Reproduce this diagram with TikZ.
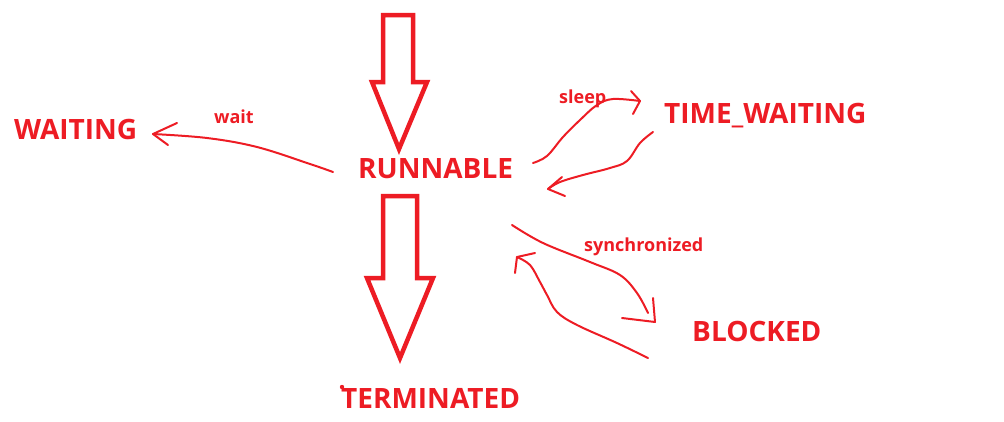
\documentclass[tikz,border=0pt]{standalone}
\usepackage{fontspec}
\setmainfont{Open Sans}
\definecolor{pred}{RGB}{237,28,36}
\tikzset{
  big/.style={font=\bfseries\fontsize{28}{28}\selectfont, text=pred, inner sep=0pt, anchor=base west},
  small/.style={font=\bfseries\fontsize{18}{18}\selectfont, text=pred, inner sep=0pt, anchor=base west},
  hand/.style={draw=pred, line width=2pt, line cap=round, line join=round},
  fat/.style={draw=pred, line width=4.5pt, line join=miter, fill=white},
}
\begin{document}
\begin{tikzpicture}[x=1pt,y=-1pt]
\useasboundingbox (0,0) rectangle (1004,421);
% states
\node[big] (runnable) at (358,178) {RUNNABLE};
\node[big] (waiting) at (14,139) {WAITING};
\node[big] (timewaiting) at (664,123) {TIME\_WAITING};
\node[big] (blocked) at (692,341) {BLOCKED};
\node[big] (terminated) at (341,408) {TERMINATED};
% labels
\node[small] (lwait) at (214,123) {wait};
\node[small] (lsleep) at (559,103) {sleep};
\node[small] (lsync) at (584,251) {synchronized};
% big hollow arrows
\draw[fat] (383,15) -- (413,15) -- (413,82) -- (427,82) -- (399,149) -- (372,82) -- (383,82) -- cycle;
\draw[fat] (383,196) -- (417,196) -- (417,278) -- (433,278) -- (400,358) -- (367,278) -- (383,278) -- cycle;
\fill[pred] (342,387) circle (2.2);
% wait
\coordinate (w0) at (333,172);
\coordinate (w1) at (153,134);
\draw[hand] plot[smooth, tension=0.6] coordinates {(w0) (310,164) (257,147) (207,138) (w1)};
\draw[hand] (177,123) -- (w1) -- (168,145);
% sleep
\coordinate (s0) at (533,163);
\coordinate (s1) at (640,101);
\draw[hand] plot[smooth, tension=0.6] coordinates {(s0) (547,156) (563,137) (580,120) (597,105) (613,99) (s1)};
\draw[hand] (631,91) -- (s1) -- (633,114);
% back from time_waiting
\coordinate (t0) at (653,132);
\coordinate (t1) at (548,189);
\draw[hand] plot[smooth, tension=0.6] coordinates {(t0) (640,143) (627,161) (610,168) (583,175) (560,182) (t1)};
\draw[hand] (562,177) -- (t1) -- (565,196);
% synchronized
\coordinate (y0) at (512,225);
\coordinate (y1) at (655,322);
\draw[hand] plot[smooth, tension=0.6] coordinates {(y0) (543,243) (590,262) (620,275) (637,293) (648,313)};
\draw[hand] (653,298) -- (y1) -- (622,318);
% back from blocked
\coordinate (b0) at (648,358);
\coordinate (b1) at (517,257);
\draw[hand] plot[smooth, tension=0.6] coordinates {(b0) (617,343) (577,325) (557,312) (547,295) (540,282) (530,265) (b1)};
\draw[hand] (535,253) -- (b1) -- (515,273);
\end{tikzpicture}
\end{document}
